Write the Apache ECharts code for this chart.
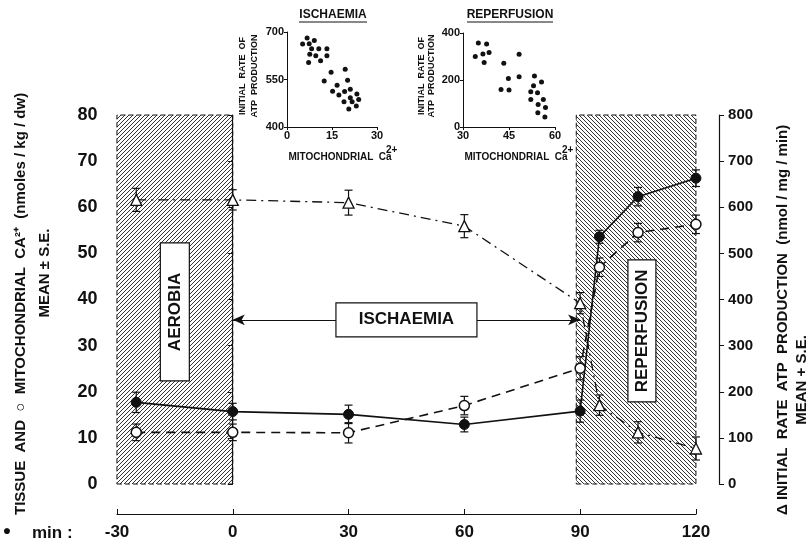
<!DOCTYPE html>
<html>
<head>
<meta charset="utf-8">
<script src="https://cdn.jsdelivr.net/npm/echarts@6/dist/echarts.min.js"></script>
<style>
  html, body { margin: 0; padding: 0; background: #fff; }
  #chart { width: 811px; height: 543px; }
</style>
</head>
<body>
<div id="chart"></div>
<script>
// --- Main panel data (time in min) ---
const timePoints = [-25, 0, 30, 60, 90, 95, 105, 120];
const tissueCa   = [17.7, 15.7, 15.1, 12.9, 15.8, 53.6, 62.3, 66.3];
const tissueErr  = [2.2, 1.8, 2.0, 1.6, 2.4, 1.4, 2.0, 1.8];
const mitoCa     = [11.2, 11.2, 11.1, 17.0, 25.1, 47.0, 54.5, 56.3];
const mitoErr    = [1.8, 1.8, 2.2, 2.0, 2.5, 2.0, 2.0, 2.0];
const atpRate    = [616, 616, 610, 559, 392, 171, 112, 77];
const atpErr     = [25, 22, 27, 25, 23, 22, 23, 25];
const timeTicks  = [-30, 0, 30, 60, 90, 120];

// shaded phases and labels
const aerobiaSpan     = [-30, 0];
const reperfusionSpan = [89, 120];
const ischaemiaSpan   = [0, 90];
const arrowLevel      = 35.6;
const phaseNames  = ['AEROBIA', 'ISCHAEMIA', 'REPERFUSION'];
const phaseTimes  = [-15, 45, 106];
const phaseLevels = [37.3, 35.6, 33.2];

// --- Inset data ---
const ischCa  = [6.7, 5.2, 7.4, 9.1, 8.2, 10.6, 13.3, 7.6, 9.6, 13.3, 7.2, 11.2, 14.7, 19.4, 12.4, 20.2, 16.7, 15.2, 19.2, 17.3, 21.1, 23.3, 21.1, 23.9, 19.0, 21.7, 23.1, 20.6];
const ischAtp = [681, 662, 663, 673, 647, 647, 647, 630, 625, 625, 604, 609, 573, 582, 545, 548, 532, 513, 512, 501, 519, 504, 492, 487, 480, 480, 466, 457];
const reperCa  = [35.0, 37.7, 34.0, 36.5, 38.5, 36.9, 48.3, 43.3, 44.8, 48.3, 42.4, 45.0, 53.3, 53.0, 52.1, 54.3, 55.6, 52.1, 56.2, 54.5, 56.9, 54.4, 56.7];
const reperAtp = [357, 353, 300, 311, 317, 274, 310, 271, 206, 214, 160, 157, 217, 176, 150, 146, 191, 117, 117, 96, 83, 61, 43];

const FONT = '"Liberation Sans", Arial, Helvetica, sans-serif';
const INK = '#111';

// diagonal hatch tile; dir > 0 -> "////", dir < 0 -> "\\\\"
function hatch(dir) {
    const s = 4;
    const c = document.createElement('canvas');
    c.width = s; c.height = s;
    const g = c.getContext('2d');
    g.strokeStyle = '#333';
    g.lineWidth = 1;
    g.beginPath();
    if (dir > 0) {
        g.moveTo(-1, s + 1); g.lineTo(s + 1, -1);
        g.moveTo(-1, 1); g.lineTo(1, -1);
        g.moveTo(s - 1, s + 1); g.lineTo(s + 1, s - 1);
    } else {
        g.moveTo(-1, -1); g.lineTo(s + 1, s + 1);
        g.moveTo(s - 1, -1); g.lineTo(s + 1, 1);
        g.moveTo(-1, s - 1); g.lineTo(1, s + 1);
    }
    g.stroke();
    return c;
}

function errorBars(vals, errs, yIdx) {
    return {
        type: 'custom',
        xAxisIndex: 0,
        yAxisIndex: yIdx,
        z: 4,
        silent: true,
        encode: { x: 0, y: [1, 2] },
        data: timePoints.map((t, i) => [t, vals[i] - errs[i], vals[i] + errs[i]]),
        renderItem: (params, api) => {
            const lo = api.coord([api.value(0), api.value(1)]);
            const hi = api.coord([api.value(0), api.value(2)]);
            const w = 4;
            const st = { stroke: INK, lineWidth: 1.2 };
            return {
                type: 'group',
                children: [
                    { type: 'line', shape: { x1: lo[0], y1: lo[1], x2: hi[0], y2: hi[1] }, style: st },
                    { type: 'line', shape: { x1: lo[0] - w, y1: lo[1], x2: lo[0] + w, y2: lo[1] }, style: st },
                    { type: 'line', shape: { x1: hi[0] - w, y1: hi[1], x2: hi[0] + w, y2: hi[1] }, style: st }
                ]
            };
        }
    };
}

// boxed phase labels: [width, height] in px, vertical text for the side boxes
const boxSizes = [[29, 138], [141, 34], [28, 142]];

const insetAxis = (gridIndex, min, max, interval) => ({
    type: 'value', gridIndex, min, max, interval,
    axisLine: { show: true, lineStyle: { color: INK, width: 1 } },
    axisTick: { show: true, length: 3, lineStyle: { color: INK } },
    axisLabel: { color: INK, fontSize: 11, fontWeight: 'bold', fontFamily: FONT, margin: 3 },
    splitLine: { show: false }
});

const chart = echarts.init(document.getElementById('chart'), null, { renderer: 'canvas' });

chart.setOption({
    animation: false,
    backgroundColor: '#fff',
    grid: [
        { left: 101.5, width: 617.6, top: 115, bottom: 59 },   // main panel
        { left: 117, width: 579, top: 470, height: 44 },       // time axis
        { left: 287, width: 90, top: 32, height: 95 },         // ischaemia inset
        { left: 463, width: 92, top: 33, height: 94 }          // reperfusion inset
    ],
    xAxis: [
        { type: 'value', gridIndex: 0, min: -34, max: 126, show: false },
        {
            type: 'value', gridIndex: 1, min: -30, max: 120, interval: 30,
            axisLine: { show: true, lineStyle: { color: INK, width: 1.2 } },
            axisTick: { show: true, inside: true, length: 5, lineStyle: { color: INK } },
            axisLabel: { color: INK, fontSize: 17, fontWeight: 'bold', fontFamily: FONT, margin: 10,
                customValues: timeTicks },
            splitLine: { show: false }
        },
        insetAxis(2, 0, 30, 15),
        insetAxis(3, 30, 60, 15)
    ],
    yAxis: [
        {
            type: 'value', gridIndex: 0, min: 0, max: 80, interval: 10, position: 'left',
            axisLine: { show: true, lineStyle: { color: INK, width: 1.2 } },
            axisTick: { show: true, length: 5, lineStyle: { color: INK } },
            axisLabel: { color: INK, fontSize: 18, fontWeight: 'bold', fontFamily: FONT, margin: 4 },
            splitLine: { show: false }
        },
        {
            type: 'value', gridIndex: 0, min: 0, max: 800, interval: 100, position: 'right',
            axisLine: { show: true, lineStyle: { color: INK, width: 1.2 } },
            axisTick: { show: true, length: 5, lineStyle: { color: INK } },
            axisLabel: { color: INK, fontSize: 15, fontWeight: 'bold', fontFamily: FONT, margin: 9 },
            splitLine: { show: false }
        },
        { type: 'value', gridIndex: 1, show: false },
        insetAxis(2, 400, 700, 150),
        insetAxis(3, 0, 400, 200)
    ],
    series: [
        // shaded phases + ischaemia arrow
        {
            type: 'line', xAxisIndex: 0, yAxisIndex: 0, data: [], z: 1, silent: true,
            markArea: {
                silent: true,
                label: { show: false },
                data: [
                    [{ xAxis: aerobiaSpan[0], yAxis: 0,
                       itemStyle: { color: { image: hatch(1), repeat: 'repeat' }, borderColor: INK, borderWidth: 1, borderType: [5, 3] } },
                     { xAxis: aerobiaSpan[1], yAxis: 80 }],
                    [{ xAxis: reperfusionSpan[0], yAxis: 0,
                       itemStyle: { color: { image: hatch(-1), repeat: 'repeat' }, borderColor: INK, borderWidth: 1, borderType: [5, 3] } },
                     { xAxis: reperfusionSpan[1], yAxis: 80 }]
                ]
            },
            markLine: {
                silent: true,
                symbol: ['arrow', 'arrow'],
                symbolSize: [8, 12],
                label: { show: false },
                lineStyle: { color: INK, width: 1.2, type: 'solid' },
                data: [[{ coord: [ischaemiaSpan[0], arrowLevel] }, { coord: [ischaemiaSpan[1], arrowLevel] }]]
            }
        },
        errorBars(tissueCa, tissueErr, 0),
        errorBars(mitoCa, mitoErr, 0),
        errorBars(atpRate, atpErr, 1),
        {
            name: 'tissue', type: 'line', xAxisIndex: 0, yAxisIndex: 0, z: 6,
            data: timePoints.map((t, i) => [t, tissueCa[i]]),
            symbol: 'circle', symbolSize: 10,
            itemStyle: { color: INK, borderColor: INK, borderWidth: 1 },
            lineStyle: { color: INK, width: 1.6 }
        },
        {
            name: 'mitochondrial', type: 'line', xAxisIndex: 0, yAxisIndex: 0, z: 6,
            data: timePoints.map((t, i) => [t, mitoCa[i]]),
            symbol: 'circle', symbolSize: 10,
            itemStyle: { color: '#fff', borderColor: INK, borderWidth: 1.5 },
            lineStyle: { color: INK, width: 1.6, type: [9, 6] }
        },
        {
            name: 'atp', type: 'line', xAxisIndex: 0, yAxisIndex: 1, z: 6,
            data: timePoints.map((t, i) => [t, atpRate[i]]),
            symbol: 'triangle', symbolSize: 11,
            itemStyle: { color: '#fff', borderColor: INK, borderWidth: 1.3 },
            lineStyle: { color: INK, width: 1.3, type: [10, 5, 2, 5] }
        },
        // phase label boxes
        {
            type: 'custom', xAxisIndex: 0, yAxisIndex: 0, z: 8, silent: true,
            data: phaseNames.map((n, i) => [phaseTimes[i], phaseLevels[i], i]),
            renderItem: (params, api) => {
                const c = api.coord([api.value(0), api.value(1)]);
                const i = api.value(2);
                const [w, h] = boxSizes[i];
                return {
                    type: 'group',
                    children: [
                        { type: 'rect', shape: { x: c[0] - w / 2, y: c[1] - h / 2, width: w, height: h },
                          style: { fill: '#fff', stroke: INK, lineWidth: 1.2 } },
                        { type: 'text', x: c[0], y: c[1], rotation: i === 1 ? 0 : Math.PI / 2,
                          style: { text: phaseNames[i], font: 'bold 17px ' + FONT, fill: INK,
                                   align: 'center', verticalAlign: 'middle' } }
                    ]
                };
            }
        },
        // insets
        {
            type: 'scatter', xAxisIndex: 2, yAxisIndex: 3, symbolSize: 5,
            itemStyle: { color: INK, opacity: 1 },
            data: ischCa.map((c, i) => [c, ischAtp[i]])
        },
        {
            type: 'scatter', xAxisIndex: 3, yAxisIndex: 4, symbolSize: 5,
            itemStyle: { color: INK, opacity: 1 },
            data: reperCa.map((c, i) => [c, reperAtp[i]])
        }
    ],
    graphic: [
        // inset titles
        { type: 'text', x: 333, y: 15, style: { text: 'ISCHAEMIA', font: 'bold 12px ' + FONT, fill: INK, align: 'center', verticalAlign: 'middle' } },
        { type: 'line', shape: { x1: 299, y1: 22, x2: 367, y2: 22 }, style: { stroke: INK, lineWidth: 1 } },
        { type: 'text', x: 510, y: 15, style: { text: 'REPERFUSION', font: 'bold 12px ' + FONT, fill: INK, align: 'center', verticalAlign: 'middle' } },
        { type: 'line', shape: { x1: 467, y1: 22, x2: 553, y2: 22 }, style: { stroke: INK, lineWidth: 1 } },
        // inset axis names
        { type: 'text', x: 249, y: 76, rotation: Math.PI / 2, style: { text: 'INITIAL  RATE  OF\nATP  PRODUCTION', font: 'bold 9px ' + FONT, lineHeight: 12, fill: INK, align: 'center', verticalAlign: 'middle' } },
        { type: 'text', x: 427, y: 76, rotation: Math.PI / 2, style: { text: 'INITIAL  RATE  OF\nATP  PRODUCTION', font: 'bold 9px ' + FONT, lineHeight: 10, fill: INK, align: 'center', verticalAlign: 'middle' } },
        { type: 'text', x: 340, y: 157, style: { text: 'MITOCHONDRIAL  Ca', font: 'bold 10px ' + FONT, fill: INK, align: 'center', verticalAlign: 'middle' } },
        { type: 'text', x: 386, y: 150, style: { text: '2+', font: 'bold 10px ' + FONT, fill: INK, align: 'left', verticalAlign: 'middle' } },
        { type: 'text', x: 516, y: 157, style: { text: 'MITOCHONDRIAL  Ca', font: 'bold 10px ' + FONT, fill: INK, align: 'center', verticalAlign: 'middle' } },
        { type: 'text', x: 562, y: 150, style: { text: '2+', font: 'bold 10px ' + FONT, fill: INK, align: 'left', verticalAlign: 'middle' } },
        // main left axis name
        { type: 'text', x: 21, y: 515, rotation: Math.PI / 2, style: { text: 'TISSUE  AND  \u25CB  MITOCHONDRIAL  CA\u00B2\u207A  (nmoles / kg / dw)', font: 'bold 15px ' + FONT, fill: INK, align: 'left', verticalAlign: 'middle' } },
        { type: 'text', x: 45, y: 273, rotation: Math.PI / 2, style: { text: 'MEAN \u00B1 S.E.', font: 'bold 15px ' + FONT, fill: INK, align: 'center', verticalAlign: 'middle' } },
        // main right axis name
        { type: 'text', x: 783, y: 515, rotation: Math.PI / 2, style: { text: '\u0394 INITIAL  RATE  ATP  PRODUCTION  (nmol / mg / min)', font: 'bold 15px ' + FONT, fill: INK, align: 'left', verticalAlign: 'middle' } },
        { type: 'text', x: 802, y: 380, rotation: Math.PI / 2, style: { text: 'MEAN + S.E.', font: 'bold 15px ' + FONT, fill: INK, align: 'center', verticalAlign: 'middle' } },
        // bottom-left legend/time label
        { type: 'text', x: 7, y: 531, style: { text: '\u25CF', font: 'bold 14px ' + FONT, fill: INK, align: 'center', verticalAlign: 'middle' } },
        { type: 'text', x: 32, y: 533, style: { text: 'min :', font: 'bold 17px ' + FONT, fill: INK, align: 'left', verticalAlign: 'middle' } }
    ]
});
</script>
</body>
</html>
